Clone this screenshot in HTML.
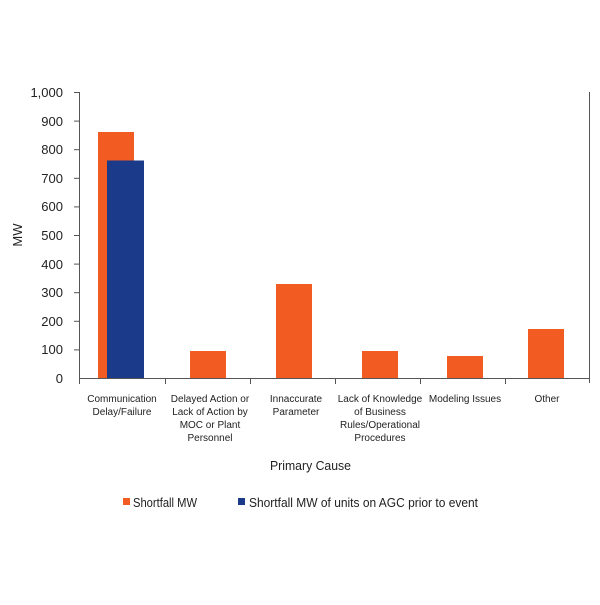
<!DOCTYPE html>
<html><head><style>
body{margin:0;background:#fff}
svg text{font-family:"Liberation Sans",Arial,sans-serif;fill:#222}
</style></head><body>
<svg width="600" height="600" viewBox="0 0 600 600" xmlns="http://www.w3.org/2000/svg">
<g stroke="#555" stroke-width="1" fill="none">
<line x1="79.5" y1="92" x2="79.5" y2="378"/>
<line x1="79.5" y1="378.5" x2="590" y2="378.5"/>
<line x1="589.5" y1="92" x2="589.5" y2="383"/>
<line x1="74" y1="92.5" x2="80" y2="92.5"/>
<line x1="74" y1="121.1" x2="80" y2="121.1"/>
<line x1="74" y1="149.7" x2="80" y2="149.7"/>
<line x1="74" y1="178.3" x2="80" y2="178.3"/>
<line x1="74" y1="206.9" x2="80" y2="206.9"/>
<line x1="74" y1="235.5" x2="80" y2="235.5"/>
<line x1="74" y1="264.1" x2="80" y2="264.1"/>
<line x1="74" y1="292.7" x2="80" y2="292.7"/>
<line x1="74" y1="321.3" x2="80" y2="321.3"/>
<line x1="74" y1="349.9" x2="80" y2="349.9"/>
<line x1="79.5" y1="378" x2="79.5" y2="384"/>
<line x1="165.5" y1="378" x2="165.5" y2="384"/>
<line x1="250.5" y1="378" x2="250.5" y2="384"/>
<line x1="335.5" y1="378" x2="335.5" y2="384"/>
<line x1="420.5" y1="378" x2="420.5" y2="384"/>
<line x1="505.5" y1="378" x2="505.5" y2="384"/>
</g>
<g font-size="13" text-anchor="end">
<text x="63" y="97">1,000</text><text x="63" y="126">900</text><text x="63" y="154">800</text>
<text x="63" y="183">700</text><text x="63" y="211">600</text><text x="63" y="240">500</text>
<text x="63" y="269">400</text><text x="63" y="297">300</text><text x="63" y="326">200</text>
<text x="63" y="354">100</text><text x="63" y="383">0</text>
</g>
<text x="22" y="235" font-size="13" text-anchor="middle" transform="rotate(-90 22 235)">MW</text>
<g fill="#F25C22">
<rect x="98" y="132" width="36" height="246"/>
<rect x="190" y="351" width="36" height="27"/>
<rect x="276" y="284" width="36" height="94"/>
<rect x="362" y="351" width="36" height="27"/>
<rect x="447" y="356" width="36" height="22"/>
<rect x="528" y="329" width="36" height="49"/>
</g>
<rect x="107" y="160.5" width="37" height="217.5" fill="#1B3A8A"/>
<g font-size="10" text-anchor="middle">
<text x="122" y="402">Communication</text><text x="122" y="415">Delay/Failure</text>
<text x="210" y="402">Delayed Action or</text><text x="210" y="415">Lack of Action by</text><text x="210" y="428">MOC or Plant</text><text x="210" y="441">Personnel</text>
<text x="296" y="402">Innaccurate</text><text x="296" y="415">Parameter</text>
<text x="380" y="402">Lack of Knowledge</text><text x="380" y="415">of Business</text><text x="380" y="428">Rules/Operational</text><text x="380" y="441">Procedures</text>
<text x="465" y="402">Modeling Issues</text>
<text x="547" y="402">Other</text>
</g>
<text x="270" y="470" font-size="13" textLength="81" lengthAdjust="spacingAndGlyphs">Primary Cause</text>
<rect x="123" y="498" width="7" height="7" fill="#F25C22"/>
<text x="133" y="507" font-size="13" textLength="64" lengthAdjust="spacingAndGlyphs">Shortfall MW</text>
<rect x="238" y="498" width="7" height="7" fill="#1B3A8A"/>
<text x="249" y="507" font-size="13" textLength="229" lengthAdjust="spacingAndGlyphs">Shortfall MW of units on AGC prior to event</text>
</svg>
</body></html>
